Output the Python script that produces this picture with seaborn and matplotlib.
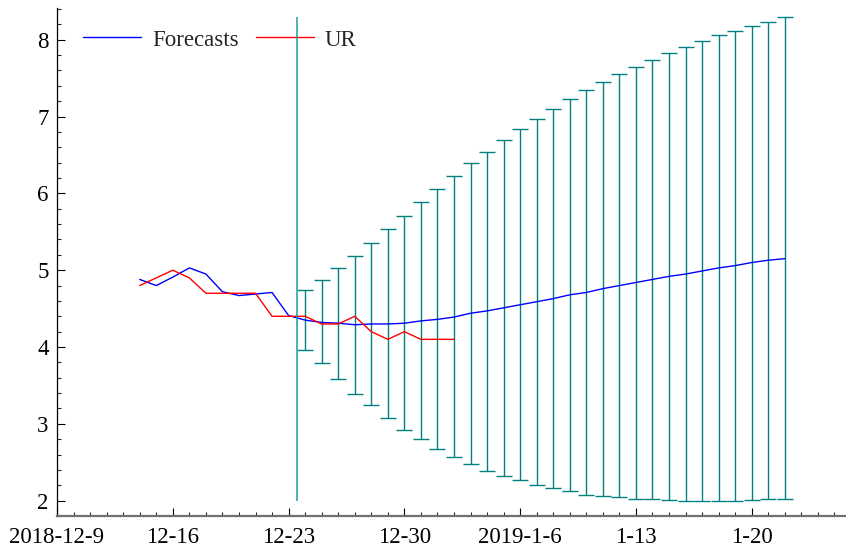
import numpy as np
import pandas as pd
import matplotlib
matplotlib.use("Agg")
import matplotlib.pyplot as plt
import matplotlib.dates as mdates
import seaborn as sns

# daily series, 2018-12-14 .. 2019-01-22
forecast_start = "2018-12-14"
forecasts = [4.88, 4.80, 4.91, 5.03, 4.95, 4.72, 4.67, 4.69, 4.71, 4.41,
             4.35, 4.32, 4.31, 4.29, 4.30, 4.30, 4.31, 4.34, 4.36, 4.39,
             4.44, 4.47, 4.51, 4.55, 4.59, 4.63, 4.68, 4.71, 4.76, 4.80,
             4.84, 4.88, 4.92, 4.95, 4.99, 5.03, 5.06, 5.10, 5.13, 5.15]

# observed unemployment rate, 2018-12-14 .. 2019-01-02
ur_start = "2018-12-14"
ur = [4.8, 4.9, 5.0, 4.9, 4.7, 4.7, 4.7, 4.7, 4.4, 4.4,
      4.4, 4.3, 4.3, 4.4, 4.2, 4.1, 4.2, 4.1, 4.1, 4.1]

# forecast intervals, 2018-12-24 .. 2019-01-22
band_start = "2018-12-24"
upper = [4.74, 4.875, 5.03, 5.18, 5.36, 5.54, 5.70, 5.89, 6.06, 6.22,
         6.39, 6.54, 6.69, 6.84, 6.97, 7.10, 7.23, 7.34, 7.45, 7.55,
         7.64, 7.74, 7.83, 7.90, 7.98, 8.06, 8.11, 8.18, 8.23, 8.29]
lower = [3.96, 3.79, 3.58, 3.39, 3.24, 3.07, 2.92, 2.80, 2.67, 2.57,
         2.48, 2.39, 2.32, 2.27, 2.20, 2.16, 2.13, 2.08, 2.06, 2.05,
         2.02, 2.02, 2.01, 2.00, 2.00, 2.00, 2.00, 2.01, 2.02, 2.02]

forecast_origin = "2018-12-23 12:00"

tick_dates = ["2018-12-09", "2018-12-16", "2018-12-23", "2018-12-30",
              "2019-01-06", "2019-01-13", "2019-01-20"]
tick_labels = ["2018-12-9", "12-16", "12-23", "12-30", "2019-1-6", "1-13", "1-20"]

df_fc = pd.DataFrame({"date": pd.date_range(forecast_start, periods=len(forecasts), freq="D"),
                      "value": forecasts})
df_ur = pd.DataFrame({"date": pd.date_range(ur_start, periods=len(ur), freq="D"),
                      "value": ur})
band_dates = pd.date_range(band_start, periods=len(upper), freq="D")
upper = np.array(upper)
lower = np.array(lower)
mid = (upper + lower) / 2

sns.set_style("ticks")
plt.rcParams["font.family"] = ["Liberation Serif", "DejaVu Serif"]

fig = plt.figure(figsize=(8.46, 5.51), dpi=100)
ax = fig.add_axes([0.0674, 0.0635, 0.9326, 0.9215])

teal = "#008080"
ax.vlines(pd.Timestamp(forecast_origin), lower.min(), upper.max(),
          color="#1f9c98", lw=1.1, zorder=6)
ax.errorbar(band_dates, mid, yerr=[mid - lower, upper - mid], fmt="none",
            ecolor=teal, elinewidth=1.0, capsize=5.5, capthick=1.0, zorder=3)

sns.lineplot(data=df_fc, x="date", y="value", color="#0000ff", lw=1.0,
             label="Forecasts", ax=ax, zorder=4)
sns.lineplot(data=df_ur, x="date", y="value", color="#ff0000", lw=1.0,
             label="UR", ax=ax, zorder=4)

ax.set_xlim(pd.Timestamp("2018-12-09"), pd.Timestamp("2018-12-09") + pd.Timedelta(days=47.7))
ax.set_ylim(1.80, 8.41)
ax.set_xlabel("")
ax.set_ylabel("")

ax.set_xticks(pd.to_datetime(tick_dates), labels=tick_labels)
ax.xaxis.set_minor_locator(mdates.DayLocator())
ax.set_yticks([2, 3, 4, 5, 6, 7, 8])
ax.yaxis.set_minor_locator(matplotlib.ticker.MultipleLocator(0.2))

ax.tick_params(axis="both", which="major", direction="in", length=6, width=0.8,
               labelsize=16.5, colors="black", pad=6)
ax.tick_params(axis="both", which="minor", direction="in", length=3, width=0.8)
ax.tick_params(axis="x", which="both", pad=8)

sns.despine(ax=ax)
ax.spines["left"].set_color("black")
ax.spines["left"].set_linewidth(0.9)
ax.spines["bottom"].set_color("#707070")
ax.spines["bottom"].set_linewidth(1.6)

ax.legend(loc="center left", ncol=2, frameon=False, fontsize=16.5,
          handlelength=2.55, handletextpad=0.45, columnspacing=0.75,
          bbox_to_anchor=(0.033, 0.9375), borderaxespad=0, borderpad=0)

fig.savefig("out.png", dpi=100)
